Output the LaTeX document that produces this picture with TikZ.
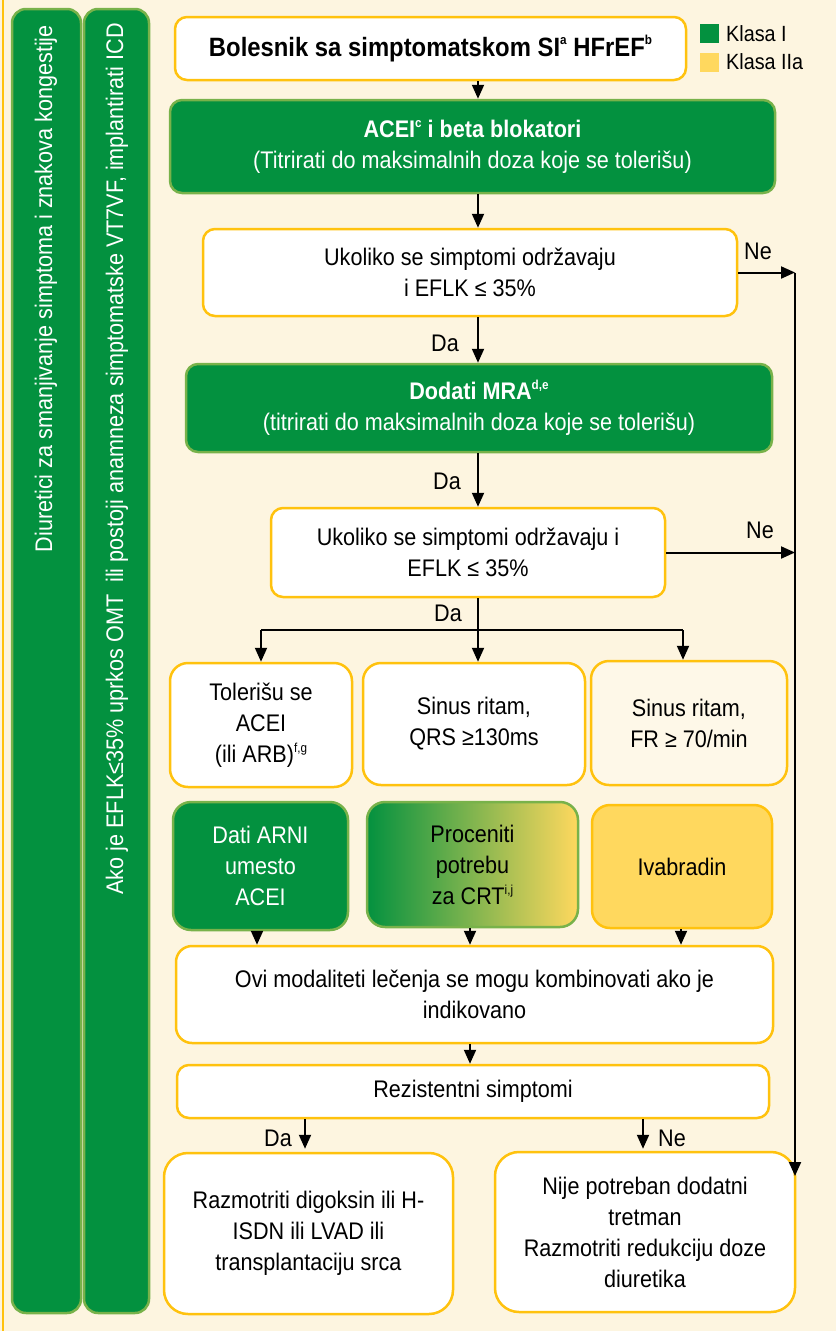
\documentclass[tikz,border=0pt]{standalone}
\usepackage{fontspec}
\setmainfont{Liberation Sans}[FakeStretch=0.9]
\usetikzlibrary{arrows.meta,calc}
\definecolor{bgc}{HTML}{FDF5E0}
\definecolor{gr}{HTML}{03913F}
\definecolor{lgr}{HTML}{78B24A}
\definecolor{yb}{HTML}{FFC20E}
\definecolor{yf}{HTML}{FFD85E}
\definecolor{cr}{HTML}{FEF8E8}
\newcommand\supr[1]{\raisebox{0.42em}{\fontsize{13}{13}\selectfont #1}}
\tikzset{
 box/.style={draw=yb, line width=2.5pt, fill=white, rounded corners=12pt, align=center, inner sep=0pt, font=\fontsize{24}{31}\selectfont},
 gbox/.style={box, draw=lgr, fill=gr, text=white},
 arr/.style={line width=2pt, -{Triangle[width=12pt,length=14pt]}},
 ln/.style={line width=2pt},
 lbl/.style={font=\fontsize{24}{28}\selectfont, inner sep=0pt},
}
\begin{document}
\begin{tikzpicture}[x=1pt,y=-1pt]
\fill[bgc] (0,0) rectangle (836,1331);
\useasboundingbox (0,0) rectangle (836,1331);
\draw[yb, line width=2pt] (3,0) -- (3,1331);
% side bars
\node[gbox, rounded corners=14pt, minimum width=69pt, minimum height=1304pt] (s1) at (46.5,661) {};
\node[gbox, rounded corners=14pt, minimum width=65pt, minimum height=1304pt] (s2) at (116.5,661) {};
\node[lbl, text=white, rotate=90, anchor=east] (s1t) at (46,25) {Diuretici za smanjivanje simptoma i znakova kongestije};
\node[lbl, text=white, rotate=90, anchor=east] (s2t) at (117,23) {Ako je EFLK≤35\% uprkos OMT \ ili postoji anamneza simptomatske VT7VF, implantirati ICD};
% legend
\node[fill=gr, minimum size=19pt, inner sep=0pt] (lg1) at (709.5,33.5) {};
\node[fill=yf, minimum size=19pt, inner sep=0pt] (lg2) at (709.5,62) {};
\node[lbl, font=\fontsize{22}{26}\selectfont, anchor=west] (lt1) at (726,33.5) {Klasa I};
\node[lbl, font=\fontsize{22}{26}\selectfont, anchor=west] (lt2) at (726,62) {Klasa IIa};
% main boxes
\node[box, minimum width=511pt, minimum height=63pt] (b1) at (430.5,48.5) {\fontsize{26.5}{31}\selectfont\bfseries Bolesnik sa simptomatskom SI\supr{a} HFrEF\supr{b}};
\node[gbox, minimum width=605pt, minimum height=93pt] (b2) at (472.5,146.5) {\textbf{ACEI\supr{c} i beta blokatori}\\(Titrirati do maksimalnih doza koje se tolerišu)};
\node[box, minimum width=534pt, minimum height=87pt] (b3) at (470,272.5) {Ukoliko se simptomi održavaju\\i EFLK ≤ 35\%};
\node[gbox, minimum width=586pt, minimum height=88pt] (b4) at (479,408) {\textbf{Dodati MRA\supr{d,e}}\\(titrirati do maksimalnih doza koje se tolerišu)};
\node[box, minimum width=394pt, minimum height=89pt] (b5) at (468,552.5) {Ukoliko se simptomi održavaju i\\EFLK ≤ 35\%};
\node[box, rounded corners=18pt, minimum width=182pt, minimum height=124pt] (c1) at (261,725) {Tolerišu se\\ACEI\\(ili ARB)\supr{f,g}};
\node[box, rounded corners=18pt, minimum width=222pt, minimum height=122pt] (c2) at (474,724) {Sinus ritam,\\QRS ≥130ms};
\node[box, fill=cr, rounded corners=18pt, minimum width=196pt, minimum height=124pt] (c3) at (689,723) {Sinus ritam,\\FR ≥ 70/min};
\node[gbox, rounded corners=18pt, minimum width=175pt, minimum height=128pt] (d1) at (260.5,866) {Dati ARNI\\umesto\\ACEI};
\node[box, draw=lgr, left color=gr, right color=yf, rounded corners=18pt, minimum width=211pt, minimum height=125pt] (d2) at (472.5,864.5) {Proceniti\\potrebu\\za CRT\supr{i,j}};
\node[box, fill=yf, rounded corners=18pt, minimum width=180pt, minimum height=123pt] (d3) at (682,866.5) {Ivabradin};
\node[box, rounded corners=16pt, minimum width=597pt, minimum height=97pt] (e) at (474.5,994.5) {Ovi modaliteti lečenja se mogu kombinovati ako je\\indikovano};
\node[box, minimum width=592pt, minimum height=53pt] (f) at (473,1091.5) {Rezistentni simptomi};
\node[box, rounded corners=24pt, minimum width=289pt, minimum height=161pt] (g1) at (308.5,1233.5) {Razmotriti digoksin ili H-\\ISDN ili LVAD ili\\transplantaciju srca};
\node[box, rounded corners=24pt, minimum width=300pt, minimum height=160pt] (g2) at (645,1232) {Nije potreban dodatni\\tretman\\Razmotriti redukciju doze\\diuretika};
% helper coordinates
\coordinate (mx) at (478,0);
\coordinate (br) at (478,630);
\coordinate (x683) at (683,0);
\coordinate (rv) at (795,0);
\coordinate (rvend) at (795,1176);
\coordinate (x257) at (257,0);
\coordinate (x470) at (470,0);
\coordinate (x681) at (681,0);
\coordinate (x305) at (305,0);
\coordinate (x643) at (643,0);
% connectors
\draw[arr] (b1.south -| mx) -- (b2.north -| mx);
\draw[arr] (b2.south -| mx) -- (b3.north -| mx);
\draw[arr] (b3.south -| mx) -- (b4.north -| mx);
\draw[arr] (b4.south -| mx) -- (b5.north -| mx);
\draw[ln] (b5.south -| mx) -- (br);
\draw[ln] (br -| c1.north) -- (br -| x683);
\draw[arr] (br -| c1.north) -- (c1.north);
\draw[arr] (br) -- (c2.north -| mx);
\draw[arr] (br -| x683) -- (c3.north -| x683);
\draw[arr] (b3.east) -- (b3.east -| rv);
\draw[arr] (b5.east) -- (b5.east -| rv);
\draw[arr] (b3.east -| rv) -- (rvend);
\draw[arr] (d1.south -| x257) -- (e.north -| x257);
\draw[arr] (d2.south -| x470) -- (e.north -| x470);
\draw[arr] (d3.south -| x681) -- (e.north -| x681);
\draw[arr] (e.south -| x470) -- (f.north -| x470);
\draw[arr] (f.south -| x305) -- ($(g1.north -| x305)+(0,-3)$);
\draw[arr] (f.south -| x643) -- ($(g2.north -| x643)+(0,-2)$);
% labels
\node[lbl] (l1) at (445,343) {Da};
\node[lbl] (l2) at (447,481) {Da};
\node[lbl] (l3) at (448,613) {Da};
\node[lbl] (l4) at (758,251) {Ne};
\node[lbl] (l5) at (760,530) {Ne};
\node[lbl] (l6) at (278,1138) {Da};
\node[lbl] (l7) at (672,1138) {Ne};
\end{tikzpicture}
\end{document}
